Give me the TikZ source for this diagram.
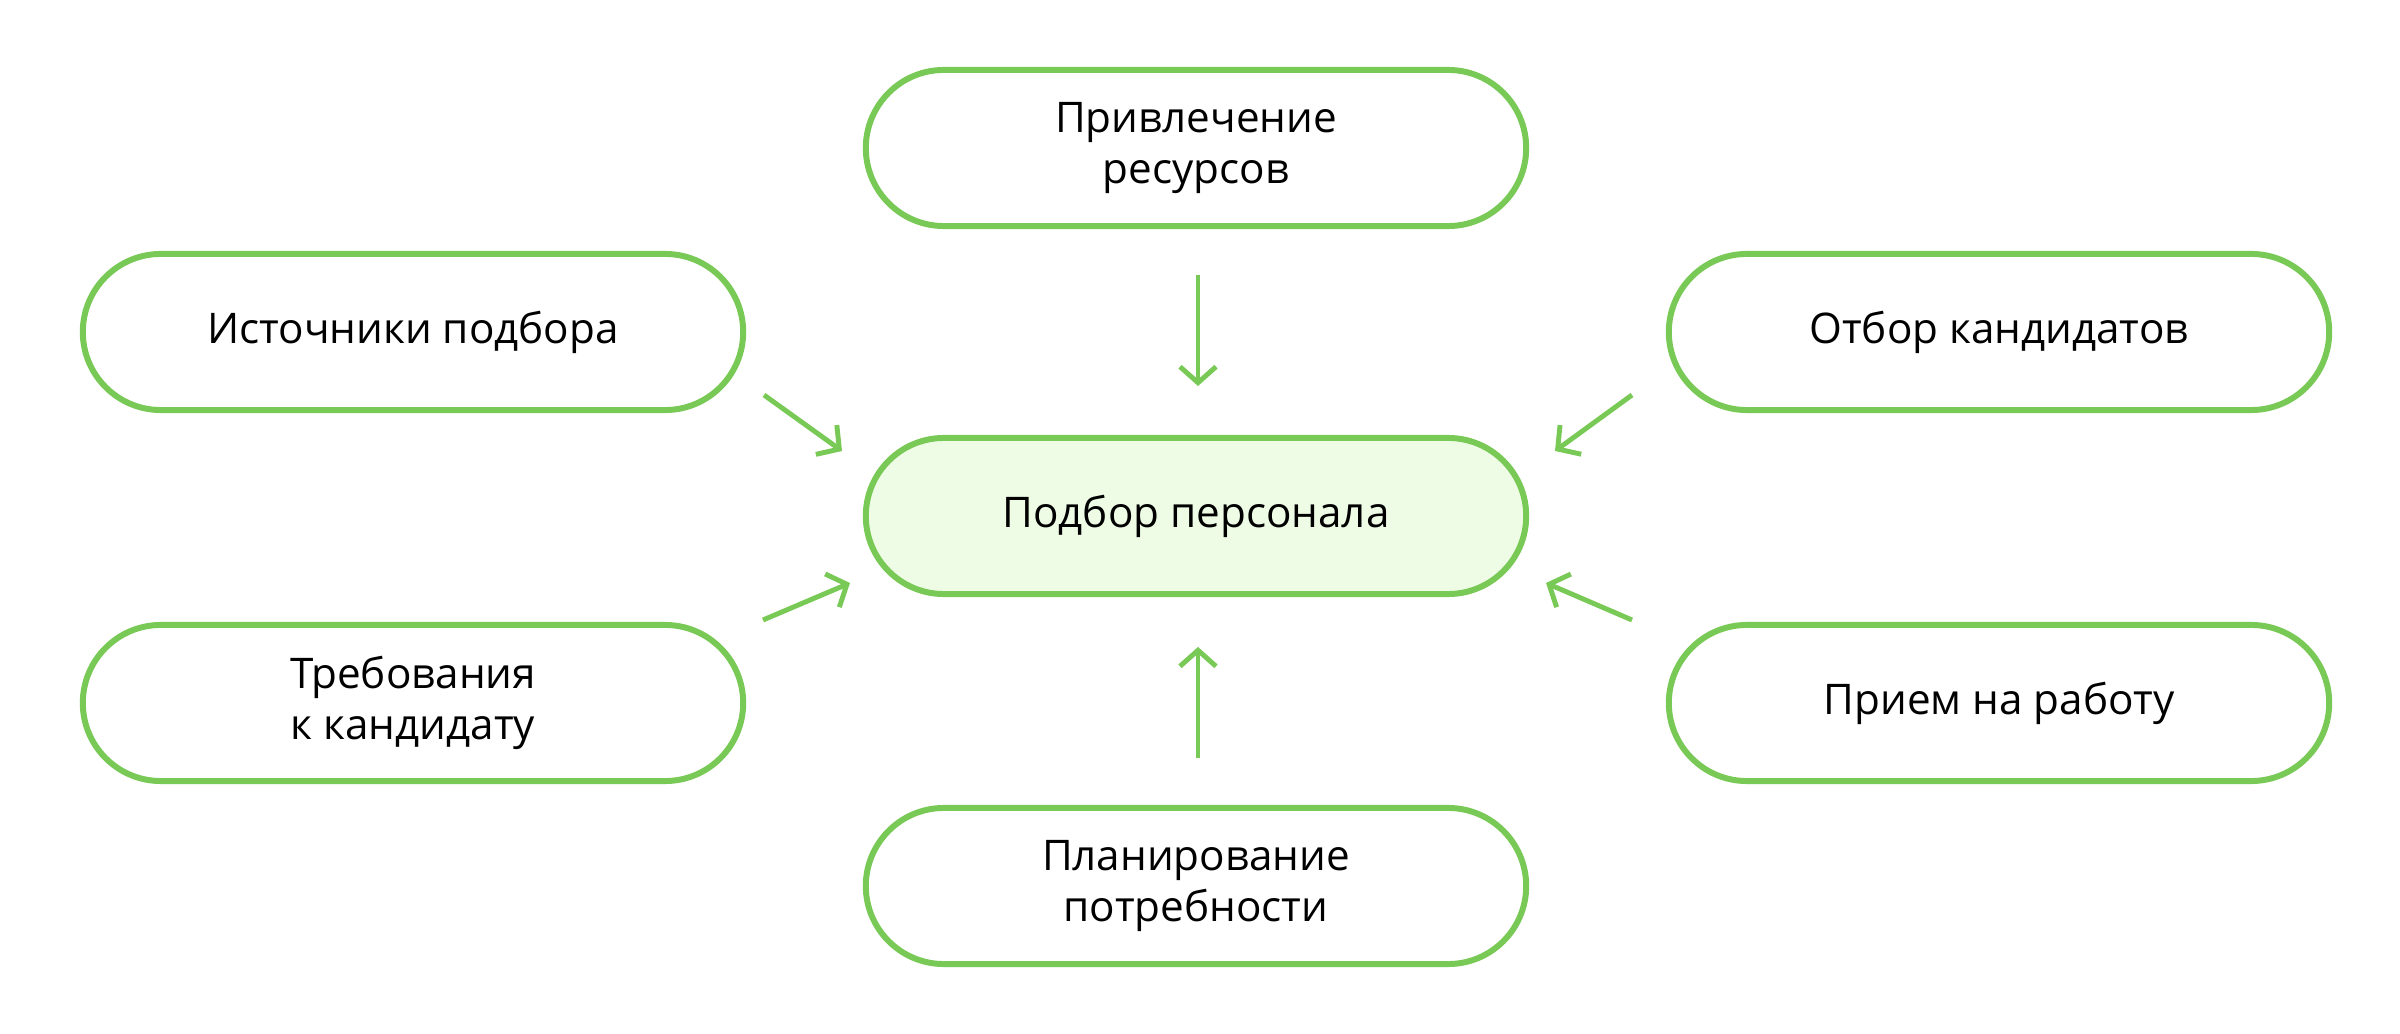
\documentclass[tikz,border=0pt]{standalone}
\usepackage{fontspec}
\setmainfont{Open Sans}
\usetikzlibrary{arrows.meta}
\definecolor{gr}{HTML}{78C955}
\definecolor{lg}{HTML}{EEFCE6}
\begin{document}
\begin{tikzpicture}[x=0.01cm,y=-0.01cm,
 box/.style={draw=gr,line width=1.7pt,rounded corners=0.78cm,minimum width=6.6cm,minimum height=1.56cm,align=center,font=\fontsize{12}{14.5}\selectfont,inner sep=0pt},
 arr/.style={draw=gr,line width=1.4pt,-{Straight Barb[length=0.16cm,width=0.36cm,line width=1.4pt]}}]
\useasboundingbox (0,0) rectangle (2400,1034);
\node[box] (t) at (1196,148) {Привлечение\\ресурсов};
\node[box] (lt) at (413,332) {Источники подбора};
\node[box] (rt) at (1999,332) {Отбор кандидатов};
\node[box,fill=lg] (c) at (1196,516) {Подбор персонала};
\node[box] (lb) at (413,703) {Требования\\к кандидату};
\node[box] (rb) at (1999,703) {Прием на работу};
\node[box] (b) at (1196,886) {Планирование\\потребности};
\coordinate (a1s) at (1198,275); \coordinate (a1e) at (1198,386);
\coordinate (a2s) at (764,395); \coordinate (a2e) at (842,451);
\coordinate (a3s) at (763,620); \coordinate (a3e) at (850,583);
\coordinate (a4s) at (1632,395); \coordinate (a4e) at (1555,451);
\coordinate (a5s) at (1632,620); \coordinate (a5e) at (1546,583);
\coordinate (a6s) at (1198,758); \coordinate (a6e) at (1198,647);
\foreach \i in {1,...,6} \draw[arr] (a\i s) -- (a\i e);
\end{tikzpicture}
\end{document}
